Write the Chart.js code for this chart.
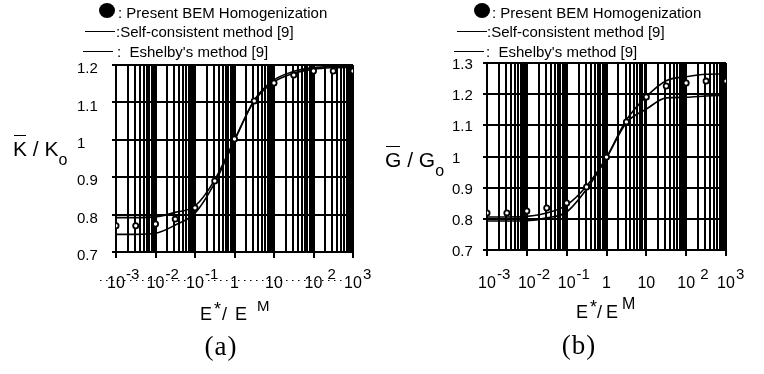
<!DOCTYPE html>
<html>
<head>
<meta charset="utf-8">
<title>Effective moduli vs stiffness ratio</title>
<script src="https://cdn.jsdelivr.net/npm/chart.js@4.4.1/dist/chart.umd.min.js"></script>
<style>
  body { margin: 0; background: #fff; }
  #wrap { position: relative; width: 764px; height: 374px; overflow: hidden;
          font-family: "Liberation Sans", Arial, sans-serif; color: #000; }
  canvas { position: absolute; top: 0; }
  .t { position: absolute; white-space: nowrap; line-height: 1; }
  .leg { font-size: 15px; }
  .dot { position: absolute; width: 16px; height: 15px; border-radius: 50%; background: #000; }
  .dash { position: absolute; height: 0; width: 30px; border-top: 1.5px solid #000; }
  .ytitle { font-size: 21px; }
  .ov { position: relative; display: inline-block; }
  .ov::before { content: ''; position: absolute; left: 1px; right: 1px; top: -3px; border-top: 1.6px solid #000; }
  .sub { position: relative; top: 9px; font-size: 16px; }
  .xtitle { font-size: 18px; }
  .up { position: relative; top: -5px; }
  .upm { position: relative; top: -9px; font-size: 15px; }
  .cap { font-family: "Liberation Serif", "Times New Roman", serif; font-size: 27px; letter-spacing: 1px; transform: translateX(-50%); }
</style>
</head>
<body>
<div id="wrap">
  <canvas id="chartK" width="380" height="374" style="left:0"></canvas>
  <canvas id="chartG" width="384" height="374" style="left:380px"></canvas>

  <!-- legend (a) -->
  <div class="dot" style="left:99px; top:3px"></div>
  <div class="t leg" style="left:118px; top:5px">: Present BEM Homogenization</div>
  <div class="dash" style="left:85px; top:31px"></div>
  <div class="t leg" style="left:116px; top:24px">:Self-consistent method [9]</div>
  <div class="dash" style="left:83px; top:51px"></div>
  <div class="t leg" style="left:117px; top:44px">:&nbsp; Eshelby's method [9]</div>

  <!-- legend (b) -->
  <div class="dot" style="left:474px; top:3px"></div>
  <div class="t leg" style="left:492px; top:5px">: Present BEM Homogenization</div>
  <div class="dash" style="left:457px; top:31px"></div>
  <div class="t leg" style="left:487px; top:24px">:Self-consistent method [9]</div>
  <div class="dash" style="left:454px; top:51px"></div>
  <div class="t leg" style="left:486px; top:44px">:&nbsp; Eshelby's method [9]</div>

  <!-- axis titles -->
  <div class="t ytitle" style="left:13px; top:138px"><span class="ov">K</span> / K<span class="sub">o</span></div>
  <div class="t ytitle" style="left:385px; top:149px"><span class="ov">G</span> / G<span class="sub">o</span></div>

  <div class="t xtitle" style="left:200px; top:305px">E<span class="up" style="margin-left:2px">*</span><span style="margin-left:1px">/</span><span style="margin-left:8px">E</span><span class="upm" style="margin-left:10px">M</span></div>
  <div class="t xtitle" style="left:576px; top:303px">E<span class="up" style="margin-left:2px">*</span><span style="margin-left:0px">/</span><span style="margin-left:4px">E</span><span class="upm" style="margin-left:4px; font-size:16px">M</span></div>

  <div class="t cap" style="left:221px; top:333px">(a)</div>
  <div class="t cap" style="left:579px; top:332px">(b)</div>
</div>

<script>
// E*/E^M sampled at half decades
const xValues = [0.001, 0.00316, 0.01, 0.0316, 0.1, 0.316, 1, 3.16, 10, 31.6, 100, 316, 1000];

// (a) bulk modulus ratio K/Ko
const bemK = [0.770, 0.770, 0.775, 0.788, 0.818, 0.890, 1.002, 1.104, 1.152, 1.173, 1.184, 1.184, 1.184];
const selfConsistentK = [0.792, 0.792, 0.794, 0.806, 0.823, 0.893, 1.000, 1.104, 1.155, 1.178, 1.189, 1.193, 1.194];
const eshelbyK = [0.747, 0.747, 0.750, 0.772, 0.804, 0.885, 0.998, 1.106, 1.160, 1.183, 1.193, 1.196, 1.197];

// (b) shear modulus ratio G/Go
const bemG = [0.819, 0.819, 0.825, 0.835, 0.851, 0.902, 0.998, 1.111, 1.191, 1.226, 1.236, 1.242, 1.242];
const selfConsistentG = [0.806, 0.806, 0.808, 0.819, 0.844, 0.905, 0.997, 1.117, 1.192, 1.243, 1.256, 1.264, 1.265];
const eshelbyG = [0.793, 0.793, 0.794, 0.803, 0.822, 0.895, 0.995, 1.108, 1.152, 1.188, 1.190, 1.194, 1.197];

// tick labels
const xTickValues = [0.001, 0.01, 0.1, 1, 10, 100, 1000];
const xTickBase = ['10', '10', '10', '1', '10', '10', '10'];
const xTickExp = ['-3', '-2', '-1', '', '', ' 2', '3'];

const yTicksK = [0.7, 0.8, 0.9, 1, 1.1, 1.2];
const yLabelsK = ['0.7', '0.8', '0.9', '1', '1.1', '1.2'];
const yTicksG = [0.7, 0.8, 0.9, 1, 1.1, 1.2, 1.3];
const yLabelsG = ['0.7', '0.8', '0.9', '1', '1.1', '1.2', '1.3'];

const FONT = '"Liberation Sans", Arial, sans-serif';

document.addEventListener('DOMContentLoaded', function() {
    initModulusChart('chartK', {
        bem: bemK, selfConsistent: selfConsistentK, eshelby: eshelbyK,
        yTicks: yTicksK, yLabels: yLabelsK,
        padding: { left: 77, top: 65, right: 27, bottom: 114 },
        yAxisWidth: 39, labelOffset: 4, dotted: true
    });
    initModulusChart('chartG', {
        bem: bemG, selfConsistent: selfConsistentG, eshelby: eshelbyG,
        yTicks: yTicksG, yLabels: yLabelsG,
        padding: { left: 72, top: 63, right: 38, bottom: 116 },
        yAxisWidth: 35, labelOffset: 2, dotted: false
    });
});

// log grid: 1..9 in every decade
function gridTicks() {
    const ticks = [];
    for (let d = -3; d < 3; d++) {
        for (let m = 1; m < 10; m++) ticks.push({ value: m * Math.pow(10, d) });
    }
    ticks.push({ value: 1000 });
    return ticks;
}

function isDecade(v) {
    const l = Math.log10(v);
    return Math.abs(l - Math.round(l)) < 1e-9;
}

function toPoints(values) {
    return xValues.map((x, i) => ({ x: x, y: values[i] }));
}

// draws 10^n style labels under the x axis
const exponentTicks = {
    id: 'exponentTicks',
    afterDraw(chart, args, opts) {
        const ctx = chart.ctx;
        const xScale = chart.scales.x;
        ctx.save();
        ctx.fillStyle = '#000';
        ctx.textBaseline = 'alphabetic';
        if (opts.dotted) {
            ctx.strokeStyle = '#000';
            ctx.lineWidth = 1;
            ctx.setLineDash([1.5, 4.5]);
            ctx.beginPath();
            ctx.moveTo(100, 280.5);
            ctx.lineTo(345, 280.5);
            ctx.stroke();
        }
        xTickValues.forEach((v, i) => {
            const px = xScale.getPixelForValue(v);
            ctx.font = '16px ' + FONT;
            const w = ctx.measureText(xTickBase[i]).width;
            ctx.fillText(xTickBase[i], px - w / 2, 288);
            if (xTickExp[i]) {
                ctx.font = '15px ' + FONT;
                ctx.fillText(xTickExp[i], px + w / 2 + 1, 278.5);
            }
        });
        ctx.restore();
    }
};

function initModulusChart(canvasId, cfg) {
    const ctx = document.getElementById(canvasId).getContext('2d');
    const curve = {
        borderColor: '#000',
        borderWidth: 1.6,
        pointRadius: 0,
        fill: false,
        cubicInterpolationMode: 'monotone'
    };

    new Chart(ctx, {
        type: 'line',
        data: {
            datasets: [
                {
                    label: 'Present BEM Homogenization',
                    data: toPoints(cfg.bem),
                    showLine: false,
                    pointRadius: 2.6,
                    pointBorderWidth: 1.8,
                    pointBackgroundColor: '#fff',
                    pointBorderColor: '#000'
                },
                Object.assign({ label: 'Self-consistent method [9]', data: toPoints(cfg.selfConsistent) }, curve),
                Object.assign({ label: "Eshelby's method [9]", data: toPoints(cfg.eshelby) }, curve)
            ]
        },
        options: {
            responsive: false,
            animation: false,
            layout: { padding: cfg.padding },
            plugins: {
                legend: { display: false },
                tooltip: { enabled: false },
                exponentTicks: { dotted: cfg.dotted }
            },
            scales: {
                x: {
                    type: 'logarithmic',
                    min: 0.001,
                    max: 1000,
                    afterBuildTicks: function(scale) { scale.ticks = gridTicks(); },
                    afterFit: function(scale) { scale.height = 8; },
                    ticks: { display: false },
                    grid: {
                        color: '#000',
                        lineWidth: 2,
                        drawTicks: true,
                        tickLength: 6,
                        tickWidth: 2,
                        tickColor: c => (c.tick && isDecade(c.tick.value)) ? '#000' : 'rgba(0,0,0,0)'
                    },
                    border: { color: '#000', width: 2 }
                },
                y: {
                    min: cfg.yTicks[0],
                    max: cfg.yTicks[cfg.yTicks.length - 1],
                    afterBuildTicks: function(scale) { scale.ticks = cfg.yTicks.map(v => ({ value: v })); },
                    afterFit: function(scale) { scale.width = cfg.yAxisWidth; },
                    ticks: {
                        autoSkip: false,
                        color: '#000',
                        font: { family: FONT, size: 15 },
                        crossAlign: 'far',
                        labelOffset: cfg.labelOffset,
                        callback: (v, i) => cfg.yLabels[i]
                    },
                    grid: { color: '#000', lineWidth: 2, tickLength: 4 },
                    border: { color: '#000', width: 2 }
                }
            }
        },
        plugins: [exponentTicks]
    });
}
</script>
</body>
</html>
